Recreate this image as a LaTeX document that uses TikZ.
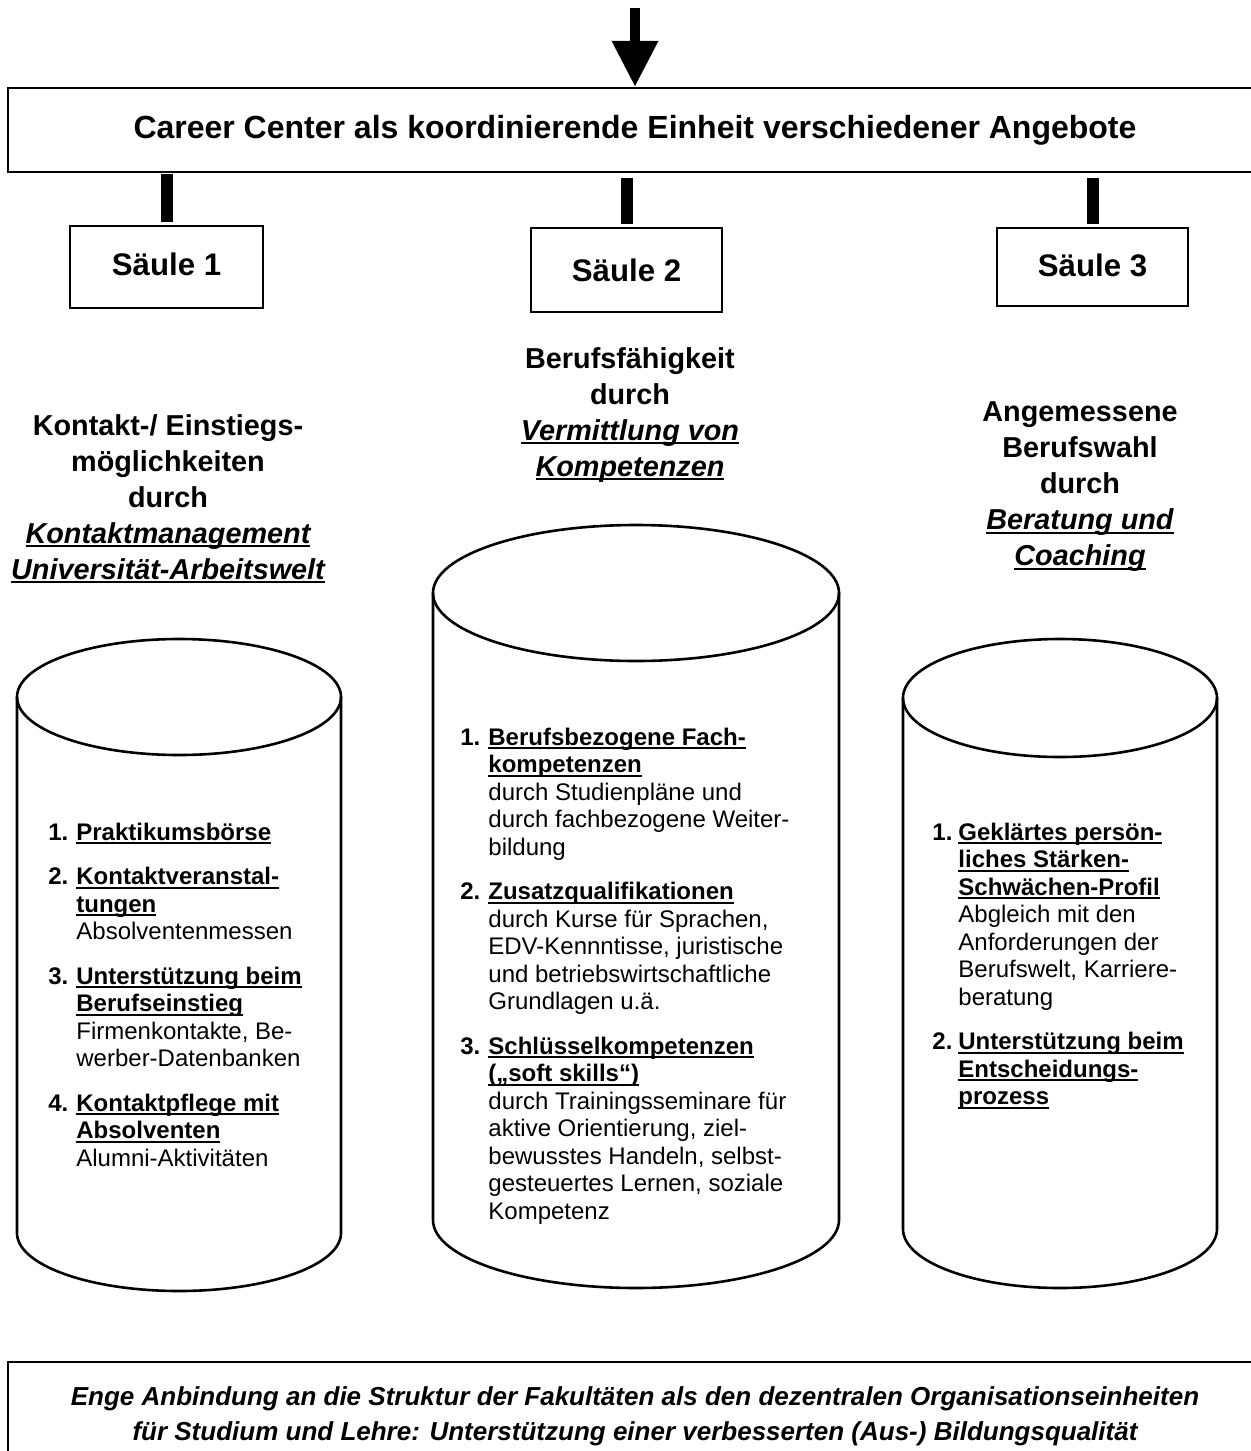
\documentclass[tikz,border=0pt]{standalone}
\usepackage{fontspec}
\setmainfont{Liberation Sans}
\usepackage{tikz}
\usetikzlibrary{arrows.meta,positioning}

\newcommand{\ulin}[1]{\setbox0\hbox{#1}\rlap{\rule[-2pt]{\wd0}{1pt}}\box0}

\begin{document}
\begin{tikzpicture}[x=0.5pt,y=-0.5pt]
		\tikzstyle{box}=[draw, line width=1.2pt, inner sep=0pt]
		\tikzstyle{bar}=[line width=6pt]
		\tikzstyle{cyl}=[line width=1.3pt]
		\tikzstyle{head}=[font=\fontsize{14.4}{18}\selectfont\bfseries, align=center, inner sep=0pt]
		\tikzstyle{lst}=[font=\fontsize{12}{13.75}\selectfont, anchor=base west, inner sep=0pt]
		\useasboundingbox (0,0) rectangle (1250,1451);
		
		\coordinate (in) at (635,8);
		\node[box, minimum width=627pt, minimum height=42pt, font=\fontsize{16}{18}\selectfont\bfseries] (cc) at (635,130)
			{Career Center als koordinierende Einheit verschiedener Angebote};
		
		\node[box, minimum width=96.5pt, minimum height=41pt, font=\fontsize{15.6}{18}\selectfont\bfseries] (s1) at (166.5,267) {\raisebox{2.5pt}{Säule 1}};
		\node[box, minimum width=95.5pt, minimum height=42pt, font=\fontsize{15.6}{18}\selectfont\bfseries] (s2) at (626.5,270) {Säule 2};
		\node[box, minimum width=95.5pt, minimum height=39pt, font=\fontsize{15.6}{18}\selectfont\bfseries] (s3) at (1092.5,267) {\raisebox{1.5pt}{Säule 3}};
		
		\draw[-{Triangle[length=23pt, width=22pt]}, line width=5pt] (in) -- (cc.north);
		\draw[bar] ([yshift=-0.5pt]cc.south -| s1.north) -- ([yshift=1.5pt]s1.north);
		\draw[bar] ([yshift=-2.5pt]cc.south -| s2.north) -- ([yshift=1.5pt]s2.north);
		\draw[bar] ([yshift=-2.5pt]cc.south -| s3.north) -- ([yshift=1.5pt]s3.north);
		
		% Saeulen
		\node[head] (h1) at (168,499) {Kontakt-/ Einstiegs-\\möglichkeiten\\durch\\
			\ulin{\itshape Kontaktmanagement}\\\ulin{\itshape Universität-Arbeitswelt}};
		\node[head] (h2) at (630,415) {Berufsfähigkeit\\durch\\
			\ulin{\itshape Vermittlung von}\\\ulin{\itshape Kompetenzen}};
		\node[head] (h3) at (1080,487) {Angemessene\\Berufswahl\\durch\\
			\ulin{\itshape Beratung und}\\\ulin{\itshape Coaching}};
		
		\foreach \cx/\rx/\yt/\yb/\ry in {179/162/697/1233/58, 636/203/593/1220/68, 1060/157/698/1229/59}
		{
			\draw[cyl] (\cx,\yt) ellipse [x radius=\rx, y radius=\ry];
			\draw[cyl] (\cx-\rx,\yt) -- (\cx-\rx,\yb) arc [start angle=180, end angle=0, x radius=\rx, y radius=\ry] -- (\cx+\rx,\yt);
		}
		
		\node[lst] (l1) at (48,840) {\begin{tabular}[t]{@{}p{14pt}@{}l@{}}
			\textbf{1.} & \ulin{\textbf{Praktikumsbörse}}\\[8.5pt]
			\textbf{2.} & \ulin{\textbf{Kontaktveranstal-}}\\
			& \ulin{\textbf{tungen}}\\
			& Absolventenmessen\\[8.5pt]
			\textbf{3.} & \ulin{\textbf{Unterstützung beim}}\\
			& \ulin{\textbf{Berufseinstieg}}\\
			& Firmenkontakte, Be-\\
			& werber-Datenbanken\\[8.5pt]
			\textbf{4.} & \ulin{\textbf{Kontaktpflege mit}}\\
			& \ulin{\textbf{Absolventen}}\\
			& Alumni-Aktivitäten
		\end{tabular}};
		\node[lst] (l2) at (460,745) {\begin{tabular}[t]{@{}p{14pt}@{}l@{}}
			\textbf{1.} & \ulin{\textbf{Berufsbezogene Fach-}}\\
			& \ulin{\textbf{kompetenzen}}\\
			& durch Studienpläne und\\
			& durch fachbezogene Weiter-\\
			& bildung\\[8.5pt]
			\textbf{2.} & \ulin{\textbf{Zusatzqualifikationen}}\\
			& durch Kurse für Sprachen,\\
			& EDV-Kennntisse, juristische\\
			& und betriebswirtschaftliche\\
			& Grundlagen u.ä.\\[8.5pt]
			\textbf{3.} & \ulin{\textbf{Schlüsselkompetenzen}}\\
			& \ulin{\textbf{(„soft skills“)}}\\
			& durch Trainingsseminare für\\
			& aktive Orientierung, ziel-\\
			& bewusstes Handeln, selbst-\\
			& gesteuertes Lernen, soziale\\
			& Kompetenz
		\end{tabular}};
		\node[lst] (l3) at (932,840) {\begin{tabular}[t]{@{}p{13pt}@{}l@{}}
			\textbf{1.} & \ulin{\textbf{Geklärtes persön-}}\\
			& \ulin{\textbf{liches Stärken-}}\\
			& \ulin{\textbf{Schwächen-Profil}}\\
			& Abgleich mit den\\
			& Anforderungen der\\
			& Berufswelt, Karriere-\\
			& beratung\\[8.5pt]
			\textbf{2.} & \ulin{\textbf{Unterstützung beim}}\\
			& \ulin{\textbf{Entscheidungs-}}\\
			& \ulin{\textbf{prozess}}
		\end{tabular}};
		
		\node[box, minimum width=627pt, minimum height=54pt, align=center,
			font=\fontsize{13}{17.5}\selectfont\bfseries\itshape] (fak) at (635,1416)
			{Enge Anbindung an die Struktur der Fakultäten als den dezentralen Organisationseinheiten\\
			für Studium und Lehre: Unterstützung einer verbesserten (Aus-) Bildungsqualität};
\end{tikzpicture}
\end{document}
